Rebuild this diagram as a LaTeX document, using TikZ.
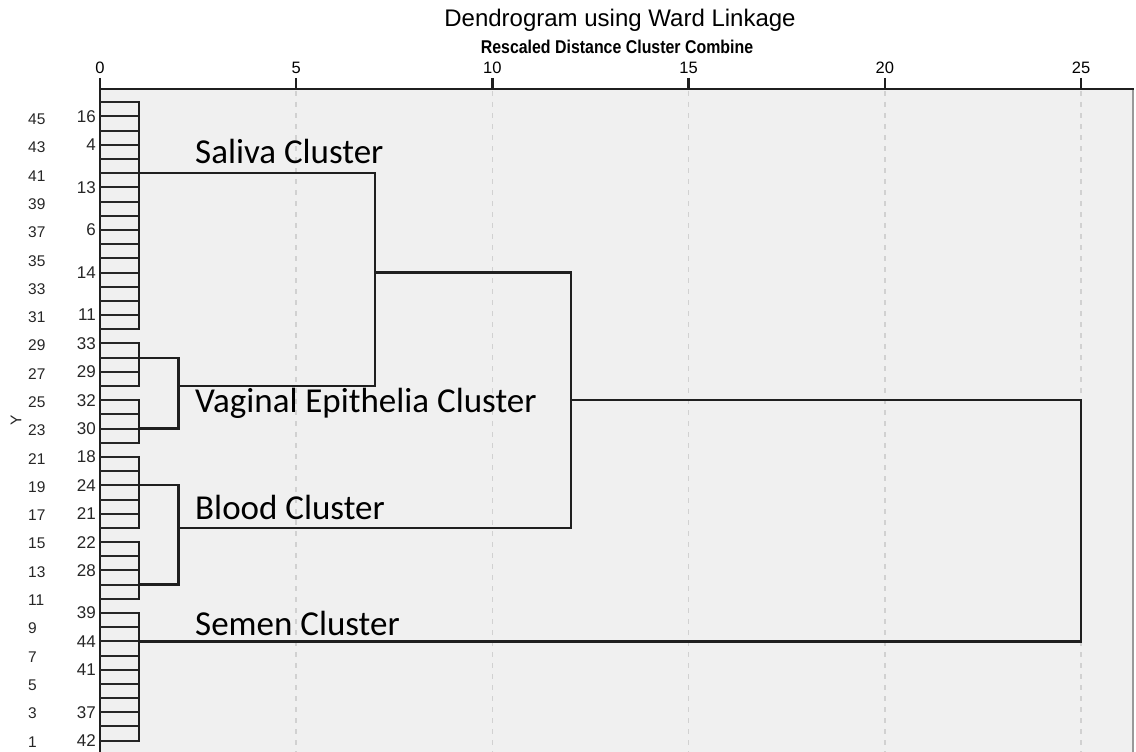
\documentclass[tikz,border=0pt]{standalone}
\usepackage{fontspec}
\setmainfont{Liberation Sans}
\newfontfamily\clusterfont{Carlito}
\newfontfamily\subfont{Liberation Sans}[FakeStretch=0.86]
\tikzset{
  link/.style={draw=black!88, line width=2.3pt, line cap=rect},
  leafline/.style={draw=black!85, line width=2pt},
  grid/.style={draw=black!18, line width=1.5pt, dash pattern=on 5pt off 6pt},
  ticklabel/.style={font=\fontsize{16.5}{17}\selectfont, inner sep=0pt},
  caselabel/.style={font=\fontsize{17}{18}\selectfont, anchor=east, inner sep=0pt, text=black!85},
  ylabel/.style={font=\fontsize{15.5}{16}\selectfont, anchor=west, inner sep=0pt, text=black!85},
  clusterlabel/.style={font=\clusterfont\fontsize{35}{38}\selectfont, anchor=base west, inner sep=0pt}
}
\newcommand{\LY}[1]{102.3+14.186*#1}
\begin{document}
\begin{tikzpicture}[x=1pt,y=-1pt]
\useasboundingbox (0,0) rectangle (1136,752);
\fill[white] (0,0) rectangle (1136,752);
% plot area
\fill[black!6] (100,89) rectangle (1133,752);
\draw[draw=black!40, line width=1.8pt] (1133,89) -- (1133,752);
% grid
\foreach \k in {5,10,15,20,25}{
  \draw[grid] ({100+39.24*\k},91) -- ({100+39.24*\k},752);
}
% axis
\draw[link] (100,89) -- (1133,89);
\draw[link] (100,89) -- (100,752);
\foreach \k in {0,5,10,15,20,25}{
  \draw[link, line cap=butt] ({100+39.24*\k},78) -- ({100+39.24*\k},89);
  \node[ticklabel] (t\k) at ({100+39.24*\k},67.5) {\k};
}
% titles
\node[font=\fontsize{24}{26}\selectfont, inner sep=0pt] (title) at (620,20) {Dendrogram using Ward Linkage};
\node[font=\subfont\bfseries\fontsize{18.5}{20}\selectfont, inner sep=0pt] (subtitle) at (617,47) {Rescaled Distance Cluster Combine};
% leaves
\foreach \i in {0,...,45}{
  \draw[leafline] (100,{\LY{\i}}) -- (139.2,{\LY{\i}});
}
% coordinates
\def\xa{139.2}
\def\xb{178.5}
\def\xg{374.7}
\def\xl{570.9}
\def\xy{1081}
% first level groups
\draw[link] (\xa,{\LY{0}}) -- (\xa,{\LY{16}});
\draw[link] (\xa,{\LY{17}}) -- (\xa,{\LY{20}});
\draw[link] (\xa,{\LY{21}}) -- (\xa,{\LY{24}});
\draw[link] (\xa,{\LY{25}}) -- (\xa,{\LY{30}});
\draw[link] (\xa,{\LY{31}}) -- (\xa,{\LY{35}});
\draw[link] (\xa,{\LY{36}}) -- (\xa,{\LY{45}});
% vaginal
\draw[link] (\xa,{\LY{18}}) -- (\xb,{\LY{18}});
\draw[link] (\xa,{\LY{23}}) -- (\xb,{\LY{23}});
\draw[link] (\xb,{\LY{18}}) -- (\xb,{\LY{23}});
\draw[link] (\xb,{\LY{20}}) -- (\xg,{\LY{20}});
% saliva
\draw[link] (\xa,{\LY{5}}) -- (\xg,{\LY{5}});
\draw[link] (\xg,{\LY{5}}) -- (\xg,{\LY{20}});
\draw[link] (\xg,{\LY{12}}) -- (\xl,{\LY{12}});
% blood
\draw[link] (\xa,{\LY{27}}) -- (\xb,{\LY{27}});
\draw[link] (\xa,{\LY{34}}) -- (\xb,{\LY{34}});
\draw[link] (\xb,{\LY{27}}) -- (\xb,{\LY{34}});
\draw[link] (\xb,{\LY{30}}) -- (\xl,{\LY{30}});
\draw[link] (\xl,{\LY{12}}) -- (\xl,{\LY{30}});
\draw[link] (\xl,{\LY{21}}) -- (\xy,{\LY{21}});
% semen
\draw[link] (\xa,{\LY{38}}) -- (\xy,{\LY{38}});
\draw[link] (\xy,{\LY{21}}) -- (\xy,{\LY{38}});
% case labels
\foreach \i/\t in {1/16,3/4,6/13,9/6,12/14,15/11,17/33,19/29,21/32,23/30,25/18,27/24,29/21,31/22,33/28,36/39,38/44,40/41,43/37,45/42}{
  \node[caselabel] (c\i) at (96,{\LY{\i}}) {\t};
}
% Y column
\foreach \n [count=\k from 0] in {45,43,...,1}{
  \node[ylabel] (y\n) at (28,{119.3+28.29*\k}) {\n};
}
\node[font=\fontsize{15.5}{16}\selectfont, rotate=90, inner sep=0pt, text=black!85] (ytitle) at (16,420) {Y};
% cluster labels
\node[clusterlabel] (saliva) at (195,163.3) {Saliva Cluster};
\node[clusterlabel] (vaginal) at (195,412.3) {Vaginal Epithelia Cluster};
\node[clusterlabel] (blood) at (195,519.3) {Blood Cluster};
\node[clusterlabel] (semen) at (195,635.7) {Semen Cluster};
\end{tikzpicture}
\end{document}
